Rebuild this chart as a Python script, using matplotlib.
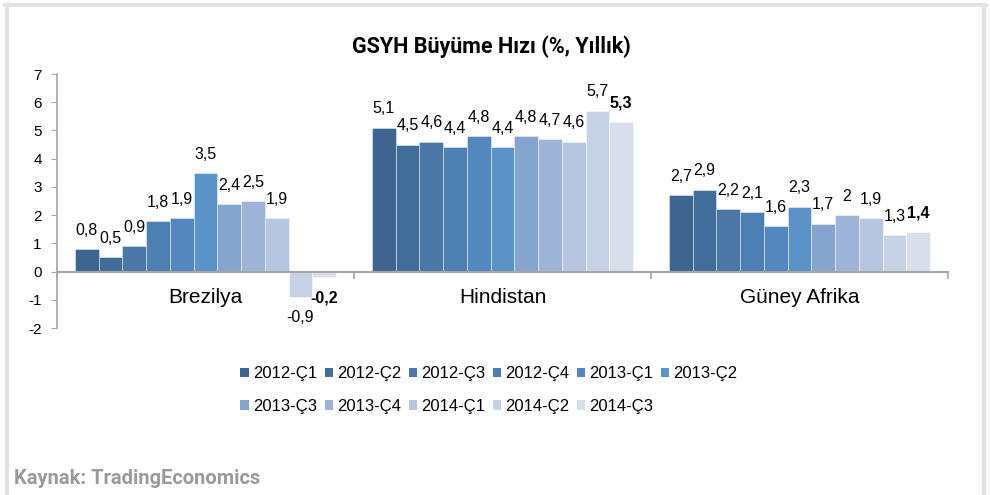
import matplotlib
matplotlib.use("Agg")
import matplotlib.pyplot as plt
from matplotlib.lines import Line2D
from matplotlib.patches import Patch

plt.rcParams['font.family'] = ['Liberation Sans', 'DejaVu Sans']

title = "GSYH Büyüme Hızı (%, Yıllık)"
source = "Kaynak: TradingEconomics"
categories = ["Brezilya", "Hindistan", "Güney Afrika"]
series = ["2012-Ç1", "2012-Ç2", "2012-Ç3", "2012-Ç4", "2013-Ç1", "2013-Ç2",
          "2013-Ç3", "2013-Ç4", "2014-Ç1", "2014-Ç2", "2014-Ç3"]
brezilya = [0.8, 0.5, 0.9, 1.8, 1.9, 3.5, 2.4, 2.5, 1.9, -0.9, -0.2]
hindistan = [5.1, 4.5, 4.6, 4.4, 4.8, 4.4, 4.8, 4.7, 4.6, 5.7, 5.3]
guney_afrika = [2.7, 2.9, 2.2, 2.1, 1.6, 2.3, 1.7, 2.0, 1.9, 1.3, 1.4]
colors = ["#3E6590", "#426D9A", "#4A77A6", "#4E7FB1", "#5387BD", "#5C93C7",
          "#85A5CF", "#9FB3D6", "#B7C5DF", "#C8D2E6", "#D8DEEB"]
yticks = [-2, -1, 0, 1, 2, 3, 4, 5, 6, 7]

data = [brezilya, hindistan, guney_afrika]

W, H = 990, 495
fig = plt.figure(figsize=(W / 100, H / 100), dpi=100)
fig.patch.set_facecolor('white')

ax = fig.add_axes([57 / W, 1 - 328 / H, (948 - 57) / W, (328 - 74) / H])
ax.set_xlim(0, 3)
ax.set_ylim(-2, 7)

n = len(series)
group = 0.879
bw = group / n
for j in range(n):
    xs = [i + 0.5 - group / 2 + bw * (j + 0.5) for i in range(len(categories))]
    vals = [d[j] for d in data]
    ax.bar(xs, vals, width=bw, color=colors[j], edgecolor=(1, 1, 1, 0.5),
           linewidth=0.6, zorder=2)
    for x, v in zip(xs, vals):
        txt = f"{v:g}".replace('.', ',')
        off = 13.5 if v >= 0 else -15
        ax.annotate(txt, (x, v), xytext=(0, off), textcoords='offset points',
                    ha='center', va='center', fontsize=11.5,
                    fontweight='bold' if j == n - 1 else 'normal', color='black')

# axes styling
for s in ['top', 'right']:
    ax.spines[s].set_visible(False)
ax.spines['left'].set_color('#A6A6A6')
ax.spines['left'].set_linewidth(1.2)
ax.spines['bottom'].set_position(('data', 0))
ax.spines['bottom'].set_color('#A6A6A6')
ax.spines['bottom'].set_linewidth(1.5)
ax.spines['bottom'].set_zorder(3)
ax.set_yticks(yticks)
ax.set_yticklabels([str(t) for t in yticks], fontsize=11)
ax.tick_params(axis='y', direction='out', length=4, color='#A6A6A6', pad=7)
ax.set_xticks([0, 1, 2, 3])
ax.set_xticklabels([])
ax.tick_params(axis='x', direction='out', length=5, color='#A6A6A6', width=1.2)
for i, c in enumerate(categories):
    ax.text(i + 0.5, -0.92, c, ha='center', va='center', fontsize=15)

# title
fig.text(491 / W, 1 - 47 / H, title, ha='center', va='center', fontsize=15.5,
         fontweight='bold', family=['Liberation Sans Narrow', 'Roboto', 'DejaVu Sans'])
# source
fig.text(14 / W, 1 - 479 / H, source, ha='left', va='center', fontsize=14.5,
         fontweight='bold', color='#9A9A9A',
         family=['Liberation Sans Narrow', 'Roboto', 'DejaVu Sans'])

# legend (row-wise ordering in 6 columns)
handles = [Patch(facecolor=c, edgecolor='none') for c in colors]
order = [0, 6, 1, 7, 2, 8, 3, 9, 4, 10, 5]
leg = fig.legend([handles[k] for k in order], [series[k] for k in order], ncol=6,
                 loc='center', bbox_to_anchor=(489 / W, 1 - 390 / H),
                 frameon=False, fontsize=12, handlelength=0.5, handleheight=0.5,
                 handletextpad=0.25, columnspacing=0.45, labelspacing=1.05)

# page border (top, left, right)
col = '#E2E2E2'
fig.add_artist(Line2D([5 / W, 986 / W], [1 - 5 / H, 1 - 5 / H], color=col, lw=3,
                      transform=fig.transFigure))
fig.add_artist(Line2D([6.5 / W, 6.5 / W], [0, 1 - 5 / H], color=col, lw=3,
                      transform=fig.transFigure))
fig.add_artist(Line2D([984 / W, 984 / W], [0, 1 - 5 / H], color=col, lw=3,
                      transform=fig.transFigure))

fig.savefig("out.png", dpi=100)
